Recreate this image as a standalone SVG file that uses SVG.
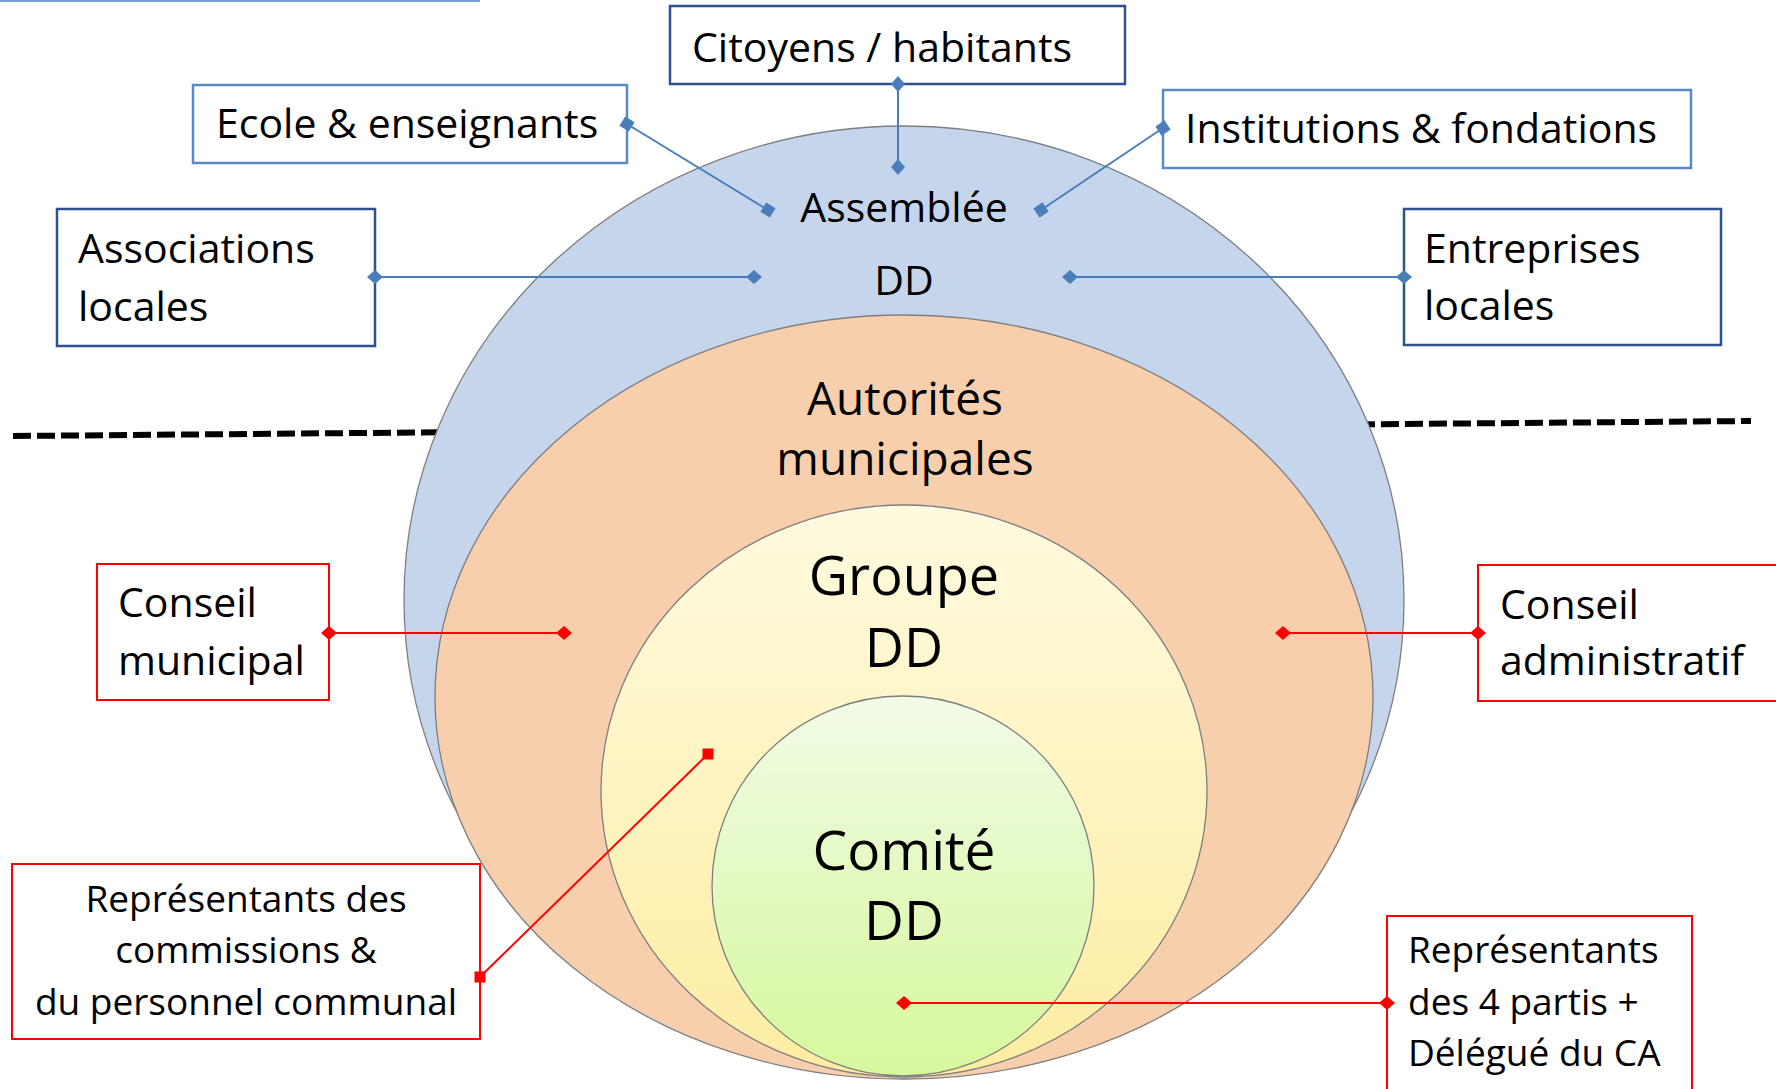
<svg xmlns="http://www.w3.org/2000/svg" width="1776" height="1089" viewBox="0 0 1776 1089">
<style>
text{font-family:"Open Sans","Noto Sans","Liberation Sans",sans-serif;fill:#000}
.lbl{font-size:41px}
.sm{font-size:37px}
.ctr{text-anchor:middle}
.bxD{fill:#fff;stroke:#2f528f;stroke-width:2.5}
.bxL{fill:#fff;stroke:#5a8ac6;stroke-width:2.5}
.bxR{fill:#fff;stroke:#ff0000;stroke-width:2}
.ell{stroke:#7f7f7f;stroke-width:1.3}
.cb{fill:none;stroke:#4a7ebb;stroke-width:2}
.cr{fill:none;stroke:#ff0000;stroke-width:2}
</style>
<defs>
<linearGradient id="gY" x1="0" y1="0" x2="0" y2="1">
<stop offset="0" stop-color="#fefadf"/>
<stop offset="1" stop-color="#fdeda2"/>
</linearGradient>
<linearGradient id="gG" x1="0" y1="0" x2="0" y2="1">
<stop offset="0" stop-color="#f1fbe6"/>
<stop offset="1" stop-color="#d6f89c"/>
</linearGradient>
<marker id="dB" viewBox="-9 -8 18 16" markerWidth="18" markerHeight="16" refX="0" refY="0" orient="auto" markerUnits="userSpaceOnUse"><path d="M-8,0 L0,-7 L8,0 L0,7Z" fill="#4a7ebb"/></marker>
<marker id="dR" viewBox="-9 -8 18 16" markerWidth="18" markerHeight="16" refX="0" refY="0" orient="auto" markerUnits="userSpaceOnUse"><path d="M-8,0 L0,-7 L8,0 L0,7Z" fill="#ff0000"/></marker>
<marker id="sB" viewBox="-7 -7 14 14" markerWidth="14" markerHeight="14" refX="0" refY="0" orient="auto" markerUnits="userSpaceOnUse"><rect x="-5.5" y="-5.5" width="11" height="11" fill="#4a7ebb"/></marker>
<marker id="sR" viewBox="-7 -7 14 14" markerWidth="14" markerHeight="14" refX="0" refY="0" orient="0" markerUnits="userSpaceOnUse"><rect x="-5.5" y="-5.5" width="11" height="11" fill="#ff0000"/></marker>
</defs>

<rect x="0" y="0" width="1776" height="1089" fill="#fff"/>
<line x1="0" y1="1" x2="480" y2="1" stroke="#7a9cc8" stroke-width="2"/>

<g id="separator">
<line x1="13" y1="436" x2="1751" y2="421" stroke="#000" stroke-width="6" stroke-dasharray="18 6"/>
</g>

<g id="assemblee">
<ellipse class="ell" cx="904" cy="600" rx="500" ry="474" fill="#c5d5ec"/>
<text class="lbl ctr" x="904" y="222">Assemblée</text>
<text class="lbl ctr" x="904" y="295">DD</text>
</g>
<g id="autorites">
<ellipse class="ell" cx="904" cy="697" rx="469" ry="382" fill="#f8cfad"/>
<text class="ctr" style="font-size:46px" x="905" y="415">Autorités</text>
<text class="ctr" style="font-size:46px" x="905" y="475">municipales</text>
</g>
<g id="groupe">
<ellipse class="ell" cx="904" cy="791" rx="303" ry="286" fill="url(#gY)"/>
<text class="ctr" style="font-size:54px" x="904" y="595">Groupe</text>
<text class="ctr" style="font-size:54px" x="904" y="667">DD</text>
</g>
<g id="comite">
<ellipse class="ell" cx="903" cy="886" rx="191" ry="190" fill="url(#gG)"/>
<text class="ctr" style="font-size:55px" x="904" y="870">Comité</text>
<text class="ctr" style="font-size:55px" x="904" y="940">DD</text>
</g>

<g id="citoyens">
<rect class="bxD" x="670" y="6" width="455" height="78"/>
<text class="lbl" x="692" y="62">Citoyens / habitants</text>
</g>
<g id="ecole">
<rect class="bxL" x="193" y="85" width="434" height="78"/>
<text class="lbl" x="216" y="138">Ecole &amp; enseignants</text>
</g>
<g id="institutions">
<rect class="bxL" x="1163" y="90" width="528" height="78"/>
<text class="lbl" x="1185" y="143">Institutions &amp; fondations</text>
</g>
<g id="associations">
<rect class="bxD" x="57" y="209" width="318" height="137"/>
<text class="lbl" x="78" y="263">Associations</text>
<text class="lbl" x="78" y="321">locales</text>
</g>
<g id="entreprises">
<rect class="bxD" x="1404" y="209" width="317" height="136"/>
<text class="lbl" x="1424" y="263">Entreprises</text>
<text class="lbl" x="1424" y="320">locales</text>
</g>
<g id="conseil-municipal">
<rect class="bxR" x="97" y="564" width="232" height="136"/>
<text class="lbl" x="118" y="617">Conseil</text>
<text class="lbl" x="118" y="675">municipal</text>
</g>
<g id="conseil-administratif">
<rect class="bxR" x="1478" y="565" width="320" height="136"/>
<text class="lbl" x="1500" y="619">Conseil</text>
<text class="lbl" x="1500" y="675">administratif</text>
</g>
<g id="representants-commissions">
<rect class="bxR" x="12" y="864" width="468" height="175"/>
<text class="sm ctr" x="246" y="912">Représentants des</text>
<text class="sm ctr" x="246" y="963">commissions &amp;</text>
<text class="sm ctr" x="246" y="1015">du personnel communal</text>
</g>
<g id="representants-partis">
<rect class="bxR" x="1387" y="916" width="305" height="200"/>
<text class="sm" x="1408" y="963">Représentants</text>
<text class="sm" x="1408" y="1015">des 4 partis +</text>
<text class="sm" x="1408" y="1066">Délégué du CA</text>
</g>

<g id="connectors">
<path class="cb" d="M898,84 L898,167" marker-start="url(#dB)" marker-end="url(#dB)"/>
<path class="cb" d="M627,124 L768,210" marker-start="url(#sB)" marker-end="url(#sB)"/>
<path class="cb" d="M1163,128 L1041,210" marker-start="url(#sB)" marker-end="url(#sB)"/>
<path class="cb" d="M375,277 L754,277" marker-start="url(#dB)" marker-end="url(#dB)"/>
<path class="cb" d="M1404,277 L1070,277" marker-start="url(#dB)" marker-end="url(#dB)"/>
<path class="cr" d="M329,633 L564,633" marker-start="url(#dR)" marker-end="url(#dR)"/>
<path class="cr" d="M1478,633 L1283,633" marker-start="url(#dR)" marker-end="url(#dR)"/>
<path class="cr" d="M480,977 L708,754" marker-start="url(#sR)" marker-end="url(#sR)"/>
<path class="cr" d="M1387,1003 L904,1003" marker-start="url(#dR)" marker-end="url(#dR)"/>
</g>
</svg>
